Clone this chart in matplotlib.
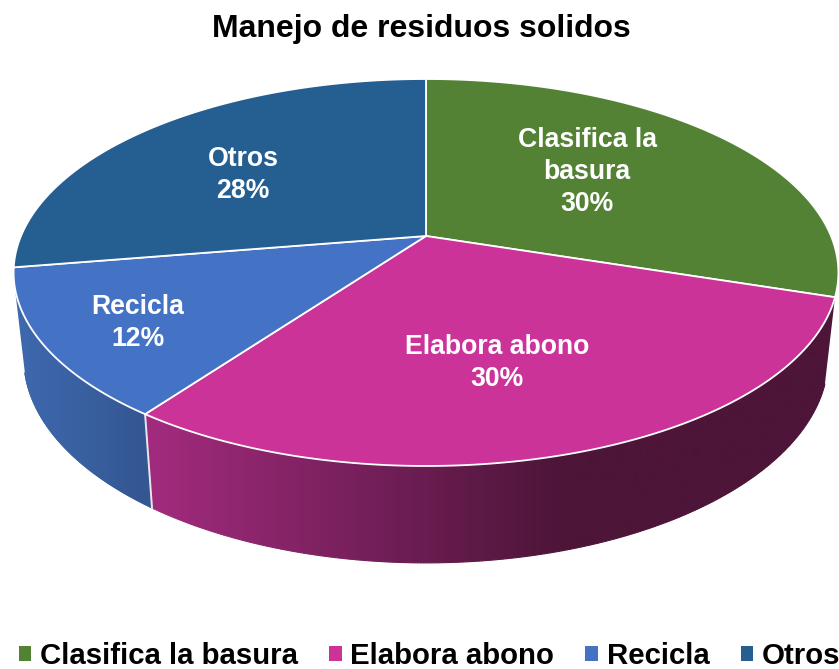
import numpy as np
import matplotlib
matplotlib.use("Agg")
import matplotlib.pyplot as plt
from matplotlib.patches import Polygon, Patch
from matplotlib.colors import to_rgb

categories = ["Clasifica la basura", "Elabora abono", "Recicla", "Otros"]
slice_labels = ["Clasifica la\nbasura", "Elabora abono", "Recicla", "Otros"]
values = [30, 30, 12.4, 27.6]
top_colors = ["#548235", "#CC3399", "#4472C4", "#255E91"]
side_light = {1: "#A22B7E", 2: "#3E69AE"}
side_dark = {1: "#4D1539", 2: "#345691"}
side_x = {1: (150, 560), 2: (20, 150)}

plt.rcParams["font.family"] = ["Liberation Sans", "DejaVu Sans"]

W, H = 839, 669
fig = plt.figure(figsize=(W / 100, H / 100), dpi=100)
ax = fig.add_axes([0, 0, 1, 1])
ax.set_xlim(0, W)
ax.set_ylim(H, 0)
ax.axis("off")

# Perspective disc: top surface and lower rim
CX, K = 426.0, 0.1886
TOP = (236.0, -142.1, 405.0)
LOW = (319.0, -137.7, 395.0)


def project(theta_deg, disc=TOP):
    t = np.radians(theta_deg)
    u, v = np.sin(t), np.cos(t)
    d = 1 + K * v
    return np.column_stack([CX + disc[2] * u / d, (disc[0] + disc[1] * v) / d])


edges = np.concatenate([[0], np.cumsum(values)]) / np.sum(values) * 360
SIDE_START, SIDE_END = 108.0, 255.0

# Side wall: horizontal gradient clipped to the wall outline
for i in side_light:
    a = max(edges[i], SIDE_START)
    b = min(edges[i + 1], SIDE_END)
    th = np.linspace(a, b, 300)
    up, lo = project(th, TOP), project(th, LOW)
    outline = Polygon(np.vstack([up, lo[::-1]]), closed=True, fc="none", ec="none",
                      transform=ax.transData)
    ax.add_patch(outline)
    xs = np.arange(0, W + 1)
    f = np.clip((xs - side_x[i][0]) / (side_x[i][1] - side_x[i][0]), 0, 1)[None, :, None]
    c0, c1 = np.array(to_rgb(side_light[i])), np.array(to_rgb(side_dark[i]))
    img = c0 + (c1 - c0) * f
    im = ax.imshow(img, extent=(0, W, H, 0), aspect="auto", interpolation="bilinear", zorder=2)
    im.set_clip_path(outline)
    # smooth the outer rim
    rim_f = np.clip((lo[:, 0] - side_x[i][0]) / (side_x[i][1] - side_x[i][0]), 0, 1)
    for j in range(0, len(th) - 1):
        col = c0 + (c1 - c0) * rim_f[j]
        ax.plot(lo[j:j + 2, 0], lo[j:j + 2, 1], color=col, lw=0.8, solid_capstyle="round", zorder=2.5)

ax.set_xlim(0, W)
ax.set_ylim(H, 0)

# Divider on the side wall
th_div = edges[2]
ax.plot([project(th_div, TOP)[0, 0], project(th_div, LOW)[0, 0]],
        [project(th_div, TOP)[0, 1], project(th_div, LOW)[0, 1]],
        color="#E8E8EE", lw=1.4, zorder=3)

# Top surface
centre = np.array([[CX, TOP[0]]])
for i, col in enumerate(top_colors):
    arc = project(np.linspace(edges[i], edges[i + 1], 200), TOP)
    ax.add_patch(Polygon(np.vstack([centre, arc]), closed=True, fc=col, ec="white",
                         lw=1.3, joinstyle="round", zorder=4))

# Slice labels
label_pos = [(587, 172), (497, 363), (138, 323), (243, 175)]
for name, val, (x, y) in zip(slice_labels, values, label_pos):
    ax.text(x, y, f"{name}\n{round(val)}%", color="white", fontsize=19.2, fontweight="bold",
            ha="center", va="center", linespacing=1.3, zorder=6)

ax.text(421.5, 29, "Manejo de residuos solidos", fontsize=23, fontweight="bold",
        ha="center", va="center", color="black")

handles = [Patch(fc=c, ec="none", label=n) for c, n in zip(top_colors, categories)]
leg = ax.legend(handles=handles, ncols=4, loc="lower center", bbox_to_anchor=(0.512, -0.019),
                frameon=False, prop={"size": 21.2, "weight": "bold"}, handlelength=0.42,
                handleheight=0.42, handletextpad=0.3, columnspacing=1.06, borderaxespad=0)

fig.savefig("out.png", dpi=100)
